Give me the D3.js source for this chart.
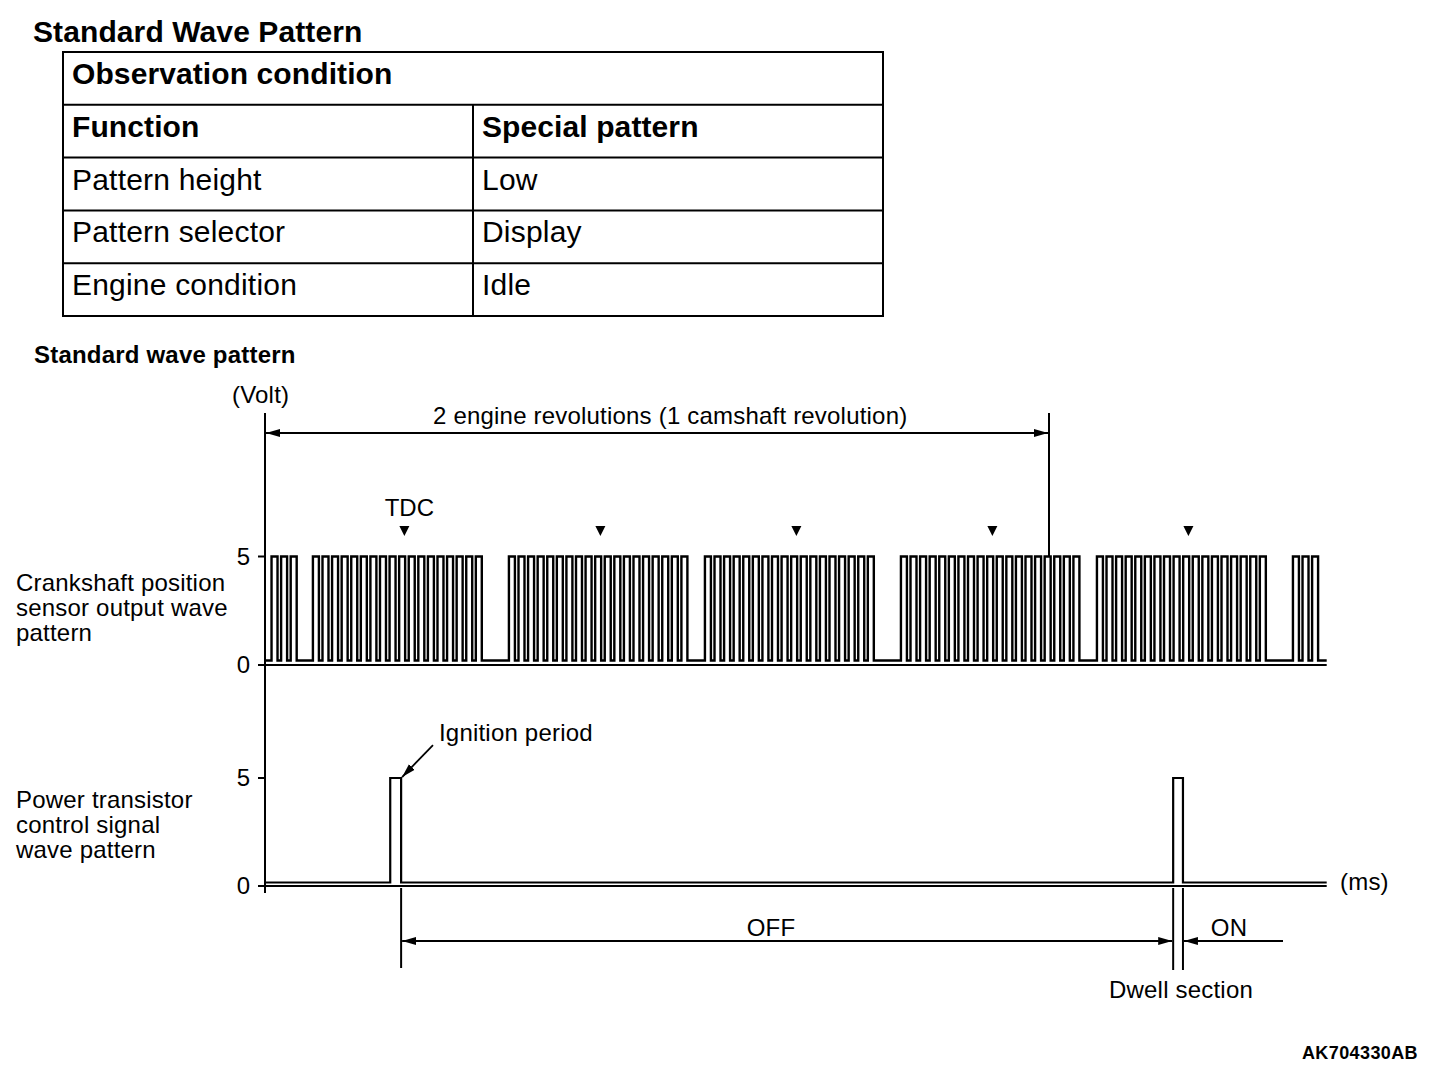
<!DOCTYPE html>
<html>
<head>
<meta charset="utf-8">
<script src="https://cdn.jsdelivr.net/npm/d3@7"></script>
<style>
  body { margin: 0; background: #fff; }
  text { font-family: "Liberation Sans", Arial, Helvetica, sans-serif; fill: #000; }
</style>
</head>
<body>
<div id="chart"></div>
<script>
// table content
var tableTitle = "Observation condition";
var tableHead = ["Function", "Special pattern"];
var tableRows = [
  ["Pattern height", "Low"],
  ["Pattern selector", "Display"],
  ["Engine condition", "Idle"]
];

// crank angle (deg) where each tooth group begins, and how many teeth it has
var toothStart = [6, 44, 224, 404, 584, 764, 944];
var toothCount = [3, 18, 19, 18, 19, 18, 3];
var toothPitch = 8.8;
var toothHigh = 5.5;

// TDC marks (deg)
var tdcMarks = [128, 308, 488, 668, 848];

// power transistor pulses (deg) : [on, off]
var ptPulses = [[115, 125], [834, 843]];

var voltTicks = [0, 5];
var revEnd = 720;      // 2 engine revolutions

var svg = d3.select("#chart").append("svg")
  .attr("width", 1456)
  .attr("height", 1074);

var defs = svg.append("defs");
defs.append("marker")
  .attr("id", "arr")
  .attr("markerUnits", "userSpaceOnUse")
  .attr("markerWidth", 16).attr("markerHeight", 10)
  .attr("viewBox", "0 -5 16 10")
  .attr("refX", 14).attr("refY", 0)
  .attr("orient", "auto-start-reverse")
  .append("path")
  .attr("d", "M0,-4L14,0L0,4Z")
  .attr("fill", "#000");

function label(x, y, str, size, opt) {
  opt = opt || {};
  return svg.append("text")
    .attr("x", x).attr("y", y)
    .attr("font-size", size)
    .attr("font-weight", opt.bold ? 700 : 400)
    .attr("letter-spacing", opt.ls == null ? 0.2 : opt.ls)
    .attr("text-anchor", opt.anchor || "start")
    .text(str);
}

function seg(x1, y1, x2, y2, w) {
  return svg.append("line")
    .attr("x1", x1).attr("y1", y1).attr("x2", x2).attr("y2", y2)
    .attr("stroke", "#000").attr("stroke-width", w || 2);
}

// ---- header + table ----
label(33, 42, "Standard Wave Pattern", 30, {bold: true, ls: 0.1});

var tx0 = 63, tx1 = 473, tx2 = 883, rowH = 52.8, ty0 = 52;
svg.append("rect")
  .attr("x", tx0).attr("y", ty0)
  .attr("width", tx2 - tx0).attr("height", rowH * 5)
  .attr("fill", "none").attr("stroke", "#000").attr("stroke-width", 2);
for (var r = 1; r < 5; r++) seg(tx0, ty0 + r * rowH, tx2, ty0 + r * rowH);
seg(tx1, ty0 + rowH, tx1, ty0 + rowH * 5);

label(72, ty0 + 32, tableTitle, 30, {bold: true, ls: 0.1});
label(72, ty0 + rowH + 32, tableHead[0], 30, {bold: true, ls: 0.1});
label(482, ty0 + rowH + 32, tableHead[1], 30, {bold: true, ls: 0.1});
tableRows.forEach(function(row, i) {
  label(72, ty0 + rowH * (i + 2) + 32, row[0], 30);
  label(482, ty0 + rowH * (i + 2) + 32, row[1], 30);
});

// ---- wave chart ----
label(34, 363, "Standard wave pattern", 24, {bold: true});

var x = d3.scaleLinear().domain([0, 975]).range([265, 1326.7]);
var yCrank = d3.scaleLinear().domain([0, 5]).range([660.5, 556.5]);
var yPt = d3.scaleLinear().domain([0, 5]).range([882.5, 778]);

// axis
seg(x(0), 413, x(0), 893);
voltTicks.forEach(function(v) {
  var yc = v === 0 ? yCrank(0) + 4.5 : yCrank(v);
  var yp = v === 0 ? yPt(0) + 3.5 : yPt(v);
  seg(258, yc, v === 0 ? x(975) : x(0), yc);
  seg(258, yp, v === 0 ? x(975) : x(0), yp);
  label(250, yc + 8, String(v), 24, {anchor: "end", ls: 0});
  label(250, yp + 8, String(v), 24, {anchor: "end", ls: 0});
});
label(232, 403, "(Volt)", 24);
label(1340, 890, "(ms)", 24);

// crank sensor wave
var crankPts = [[0, 0]];
toothStart.forEach(function(s, g) {
  for (var k = 0; k < toothCount[g]; k++) {
    var a = s + k * toothPitch;
    crankPts.push([a, 5], [a + toothHigh, 0]);
  }
});
crankPts.push([975, 0]);

var crankLine = d3.line()
  .x(function(d) { return x(d[0]); })
  .y(function(d) { return yCrank(d[1]); })
  .curve(d3.curveStepAfter);

svg.append("path")
  .datum(crankPts)
  .attr("d", crankLine)
  .attr("fill", "none")
  .attr("stroke", "#000")
  .attr("stroke-width", 2.4);

// power transistor wave
var ptPts = [[0, 0]];
ptPulses.forEach(function(p) { ptPts.push([p[0], 5], [p[1], 0]); });
ptPts.push([975, 0]);

svg.append("path")
  .datum(ptPts)
  .attr("d", d3.line()
    .x(function(d) { return x(d[0]); })
    .y(function(d) { return yPt(d[1]); })
    .curve(d3.curveStepAfter))
  .attr("fill", "none")
  .attr("stroke", "#000")
  .attr("stroke-width", 2.2);

// 2 revolutions dimension
seg(x(revEnd), 413, x(revEnd), yCrank(5))
seg(x(0) + 1, 433, x(revEnd) - 1, 433)
  .attr("marker-start", "url(#arr)")
  .attr("marker-end", "url(#arr)");
label(433, 424, "2 engine revolutions (1 camshaft revolution)", 24);

// TDC triangles
svg.selectAll("path.tdc")
  .data(tdcMarks)
  .enter()
  .append("path")
  .attr("class", "tdc")
  .attr("d", function(d) {
    var cx = x(d);
    return "M" + (cx - 5) + ",526L" + (cx + 5) + ",526L" + cx + ",536Z";
  })
  .attr("fill", "#000");
label(x(tdcMarks[0]) + 5, 516, "TDC", 24, {anchor: "middle", ls: 0});

// left labels
["Crankshaft position", "sensor output wave", "pattern"].forEach(function(s, i) {
  label(16, 591 + i * 25, s, 24);
});
["Power transistor", "control signal", "wave pattern"].forEach(function(s, i) {
  label(16, 808 + i * 25, s, 24);
});

// ignition period callout
seg(433, 745, x(ptPulses[0][1]) + 1, yPt(5) - 1, 1.8)
  .attr("marker-end", "url(#arr)");
label(439, 741, "Ignition period", 24);

// OFF / ON dimensions
var offX1 = x(ptPulses[0][1]), offX2 = x(ptPulses[1][0]), onX = x(ptPulses[1][1]);
seg(offX1, 888, offX1, 968);
seg(offX2, 888, offX2, 970);
seg(onX, 888, onX, 970);
seg(offX1 + 1, 941, offX2 - 1, 941)
  .attr("marker-start", "url(#arr)")
  .attr("marker-end", "url(#arr)");
seg(1283, 941, onX + 1, 941)
  .attr("marker-end", "url(#arr)");
label(771, 936, "OFF", 24, {anchor: "middle"});
label(1229, 936, "ON", 24, {anchor: "middle"});
label(1181, 998, "Dwell section", 24, {anchor: "middle"});

label(1418, 1059, "AK704330AB", 18, {bold: true, anchor: "end", ls: 0.4});
</script>
</body>
</html>
